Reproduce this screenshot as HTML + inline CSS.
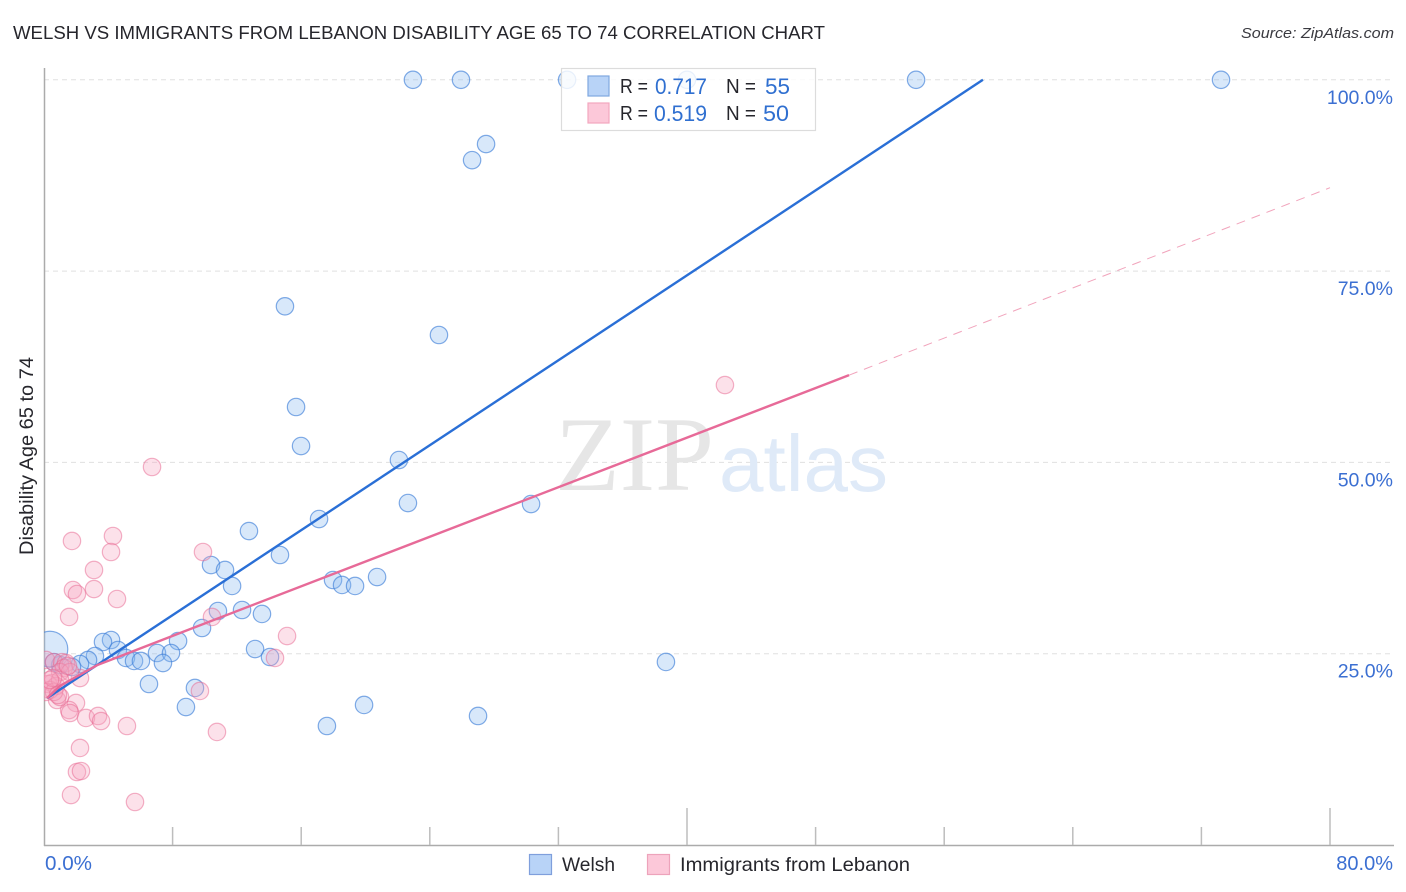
<!DOCTYPE html>
<html>
<head>
<meta charset="utf-8">
<title>Welsh vs Immigrants from Lebanon Disability Age 65 to 74 Correlation Chart</title>
<style>
html,body{margin:0;padding:0;background:#fff;}
svg{display:block;font-family:"Liberation Sans",sans-serif;}
</style>
</head>
<body>
<svg id="chart" width="1406" height="892" viewBox="0 0 1406 892" xmlns="http://www.w3.org/2000/svg">
  <defs>
    <clipPath id="plot-clip"><rect x="44" y="60" width="1350" height="785"></rect></clipPath>
  </defs>
  <text x="13" y="39" font-size="18.5" fill="#26262c" textLength="812" lengthAdjust="spacingAndGlyphs">WELSH VS IMMIGRANTS FROM LEBANON DISABILITY AGE 65 TO 74 CORRELATION CHART</text>
  <text x="1394" y="38" font-size="15" font-style="italic" fill="#3a3a40" text-anchor="end" textLength="153" lengthAdjust="spacingAndGlyphs">Source: ZipAtlas.com</text>
  <g id="grid"></g>
  <g>
    <text x="555" y="490" font-size="106" fill="#e6e6e6" font-family="'Liberation Serif',serif">ZIP</text>
    <text x="719" y="491" font-size="80" fill="#dfeaf8">atlas</text>
  </g>
  <g id="axes"></g>
  <g id="points" clip-path="url(#plot-clip)"></g>
  <g id="trends"></g>
  <text transform="translate(33,456) rotate(-90)" font-size="19" fill="#26262c" text-anchor="middle" textLength="198" lengthAdjust="spacingAndGlyphs">Disability Age 65 to 74</text>
  <g>
    <rect x="561.5" y="68.5" width="254" height="62" fill="#fff" fill-opacity="0.82" stroke="#dcdcdc" stroke-width="1.2"></rect>
    <rect x="588" y="76" width="21" height="20" fill="#b8d3f7" stroke="#7fa8e0" stroke-width="1.2"></rect>
    <rect x="588" y="103" width="21" height="20" fill="#fcc8d9" stroke="#f2a6bf" stroke-width="1.2"></rect>
    <text x="620" y="93" font-size="20" fill="#26262c" textLength="28" lengthAdjust="spacingAndGlyphs">R =</text>
    <text x="655" y="94" font-size="22" fill="#2f6fd0" textLength="52" lengthAdjust="spacingAndGlyphs">0.717</text>
    <text x="726" y="93" font-size="20" fill="#26262c" textLength="30" lengthAdjust="spacingAndGlyphs">N =</text>
    <text x="765" y="94" font-size="22" fill="#2f6fd0" textLength="25" lengthAdjust="spacingAndGlyphs">55</text>
    <text x="620" y="120" font-size="20" fill="#26262c" textLength="28" lengthAdjust="spacingAndGlyphs">R =</text>
    <text x="654" y="121" font-size="22" fill="#2f6fd0" textLength="53" lengthAdjust="spacingAndGlyphs">0.519</text>
    <text x="726" y="120" font-size="20" fill="#26262c" textLength="30" lengthAdjust="spacingAndGlyphs">N =</text>
    <text x="763" y="121" font-size="22" fill="#2f6fd0" textLength="26" lengthAdjust="spacingAndGlyphs">50</text>
  </g>
  <g>
    <rect x="529.5" y="854.5" width="22" height="20" fill="#b8d3f7" stroke="#7f9fdc" stroke-width="1.2"></rect>
    <text x="562" y="871" font-size="19.5" fill="#26262c" textLength="53" lengthAdjust="spacingAndGlyphs">Welsh</text>
    <rect x="647.5" y="854.5" width="22" height="20" fill="#fcc8d9" stroke="#eda3bb" stroke-width="1.2"></rect>
    <text x="680" y="871" font-size="19.5" fill="#26262c" textLength="230" lengthAdjust="spacingAndGlyphs">Immigrants from Lebanon</text>
  </g>
</svg>
<script>
var welshX = [22.95,25.94,32.54,40.0,54.25,73.22,27.5,26.63,14.99,24.57,15.68,15.99,22.08,22.64,30.3,17.11,12.75,14.68,10.39,11.26,11.7,17.98,18.54,19.35,20.72,12.32,10.82,13.56,9.83,8.34,4.17,3.67,4.6,3.17,2.74,7.03,7.9,5.1,5.6,6.03,7.4,13.13,14.06,38.69,6.53,9.39,8.83,19.91,27.0,17.6,2.24,1.74,1.0,0.62,0.37];
var welshY = [100,100,100,100,100,100,91.6,89.5,70.4,66.65,57.24,52.14,50.31,44.69,44.56,42.6,41.03,37.9,36.59,35.94,33.85,34.63,33.98,33.85,35.02,30.71,30.58,30.19,28.36,26.66,26.79,26.53,25.48,24.7,24.18,25.09,25.09,24.44,24.05,24.05,23.78,25.61,24.57,23.92,21.04,20.52,18.03,18.3,16.86,15.55,23.65,23.26,23.52,23.9,25.6];
var welshWeight = [1,1,1,1,1,1,1,1,1,1,1,1,1,1,1,1,1,1,1,1,1,1,1,1,1,1,1,1,1,1,1,1,1,1,1,1,1,1,1,1,1,1,1,1,1,1,1,1,1,1,1,1,1,1,4.2];
var lebanonX = [42.36,6.72,4.29,1.74,4.17,9.89,3.11,1.8,2.05,3.11,4.54,1.56,10.45,15.12,14.37,2.24,9.7,1.99,1.56,1.62,0.81,1.0,2.61,3.36,3.55,5.16,10.76,2.24,2.05,2.3,1.68,5.66,0.12,0.62,1.12,1.37,1.24,1.0,1.62,0.5,0.25,0.75,0.37,0.62,0.12,1.0,0.56,0.37,1.49,0.87];
var lebanonY = [60.11,49.4,40.38,39.73,38.29,38.29,35.94,33.32,32.8,33.45,32.15,29.8,29.8,27.31,24.44,21.82,20.13,18.56,17.64,17.25,18.95,19.34,16.6,16.86,16.2,15.55,14.77,12.68,9.54,9.67,6.53,5.62,24.18,23.9,23.9,23.78,23.13,22.6,22.6,21.17,21.04,20.78,20.26,20.0,20.0,21.56,21.82,21.56,23.4,19.6];
var welshTrendX = [0.19,58.41];
var welshTrendY = [19.2,100];
var lebanonTrendX = [0.19,1.0,3.3,8.46,50.08];
var lebanonTrendY = [19.2,20.8,23.5,27.7,61.4];
var lebanonExtensionX = [50.08,80];
var lebanonExtensionY = [61.4,85.9];
var xTickValues = [0,8,16,24,32,40,48,56,64,72,80];
var xMajorTicks = [0,40,80];
var xTickLabels = ["0.0%","80.0%"];
var yTickValues = [25,50,75,100];
var yTickLabels = ["25.0%","50.0%","75.0%","100.0%"];

var NS = "http://www.w3.org/2000/svg";
function sx(v){ return 44 + v * 16.075; }
function sy(v){ return 845 - v * 7.652; }
function make(tag, attrs, parent, text){
  var el = document.createElementNS(NS, tag);
  for (var k in attrs) el.setAttribute(k, attrs[k]);
  if (text !== undefined) el.textContent = text;
  parent.appendChild(el);
  return el;
}
var grid = document.getElementById("grid");
var axes = document.getElementById("axes");
var points = document.getElementById("points");
var trends = document.getElementById("trends");

yTickValues.forEach(function(v, i){
  var line = make("line", {x1:44, x2:1394, y1:sy(v), y2:sy(v), stroke:"#e0e0e0", "stroke-width":1, "stroke-dasharray":"5 4"}, grid);
  
  
  var label = make("text", {x:1393, y:sy(v)+24, "font-size":19.5, fill:"#3b6fd2", "text-anchor":"end"}, axes, yTickLabels[i]);
  
  
});

var leftAxis = make("line", {x1:44.5, x2:44.5, y1:68, y2:846, stroke:"#ababab", "stroke-width":1.5}, axes);


var bottomAxis = make("line", {x1:44, x2:1394, y1:845.5, y2:845.5, stroke:"#ababab", "stroke-width":1.5}, axes);



xTickValues.forEach(function(v){
  if (v === 0) return;
  var top = xMajorTicks.indexOf(v) >= 0 ? 808 : 827;
  var tick = make("line", {x1:sx(v), x2:sx(v), y1:top, y2:845, stroke:"#bdbdbd", "stroke-width":1.5}, axes);
  
  
});
var xLabelStart = make("text", {x:45, y:870, "font-size":20, fill:"#3b6fd2", textLength:47, lengthAdjust:"spacingAndGlyphs"}, axes, xTickLabels[0]);


var xLabelEnd = make("text", {x:1393, y:870, "font-size":20, fill:"#3b6fd2", "text-anchor":"end"}, axes, xTickLabels[1]);



welshX.forEach(function(v, i){
  var dot = make("circle", {cx:sx(v), cy:sy(welshY[i]), r:8.7*Math.sqrt(welshWeight[i]), fill:"#8ab8f0", "fill-opacity":0.33, stroke:"#3f7fd8", "stroke-opacity":0.65, "stroke-width":1.2}, points);
  
  
});
lebanonX.forEach(function(v, i){
  var dot = make("circle", {cx:sx(v), cy:sy(lebanonY[i]), r:8.7, fill:"#f7a5bf", "fill-opacity":0.33, stroke:"#e8668f", "stroke-opacity":0.5, "stroke-width":1.2}, points);
  
  
});

function pts(xs, ys){
  return xs.map(function(v, i){ return sx(v) + "," + sy(ys[i]); }).join(" ");
}
var extension = make("polyline", {points:pts(lebanonExtensionX, lebanonExtensionY), fill:"none", stroke:"#e8688f", "stroke-opacity":0.6, "stroke-width":1, "stroke-dasharray":"9 7"}, trends);


var welshLine = make("polyline", {points:pts(welshTrendX, welshTrendY), fill:"none", stroke:"#2a6fd6", "stroke-width":2.4}, trends);


var lebanonLine = make("polyline", {points:pts(lebanonTrendX, lebanonTrendY), fill:"none", stroke:"#e76a98", "stroke-width":2.4}, trends);


</script>
</body>
</html>
